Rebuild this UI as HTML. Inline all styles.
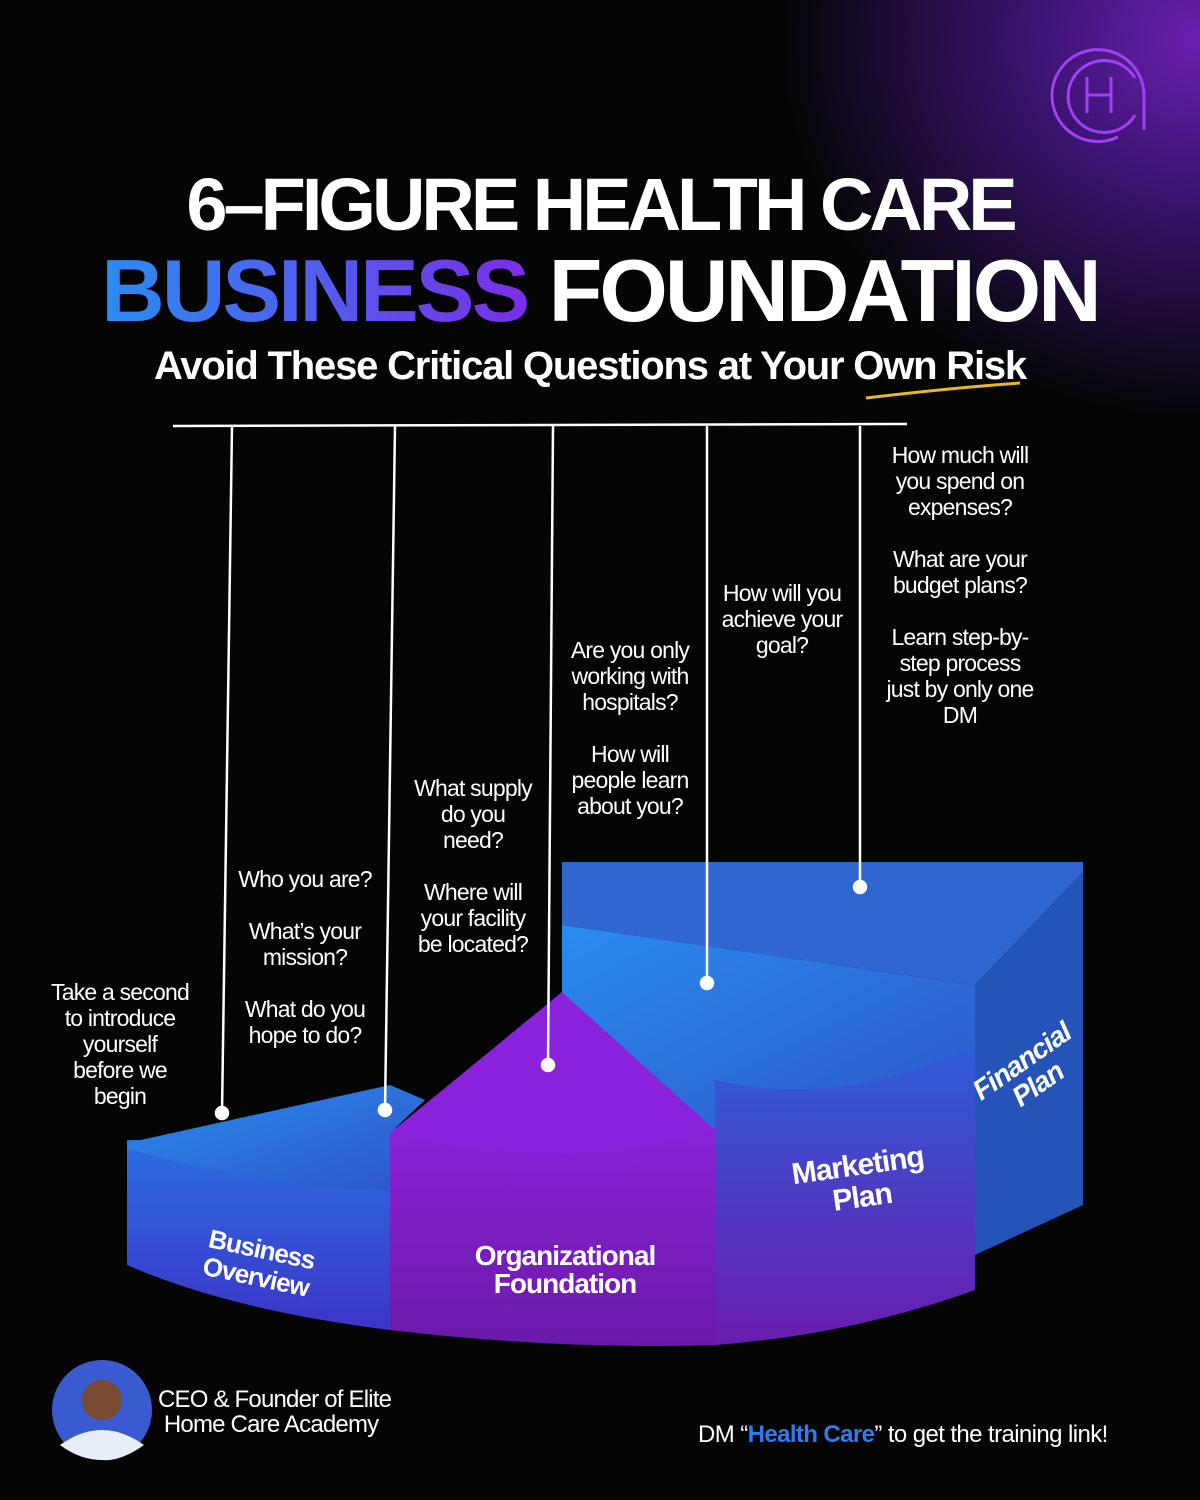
<!DOCTYPE html>
<html><head><meta charset="utf-8"><style>
body{margin:0;background:#050505;}
#c{position:relative;width:1200px;height:1500px;overflow:hidden;background:radial-gradient(ellipse 420px 380px at 1200px 40px,#6a1fb0 0%,#3a1470 40%,rgba(5,5,5,0) 100%),#050505;font-family:"Liberation Sans",sans-serif;color:#fff;}
.t{position:absolute;text-align:center;white-space:nowrap;}
.q{position:absolute;text-align:center;font-size:23px;line-height:26px;letter-spacing:-0.8px;}
</style></head><body><div id="c">
<svg width="1200" height="1500" style="position:absolute;left:0;top:0">
<defs>
<linearGradient id="bl" x1="0" y1="0" x2="0" y2="1"><stop offset="0" stop-color="#2a6fe0"/><stop offset="1" stop-color="#3c34c8"/></linearGradient>
<linearGradient id="pu" x1="0" y1="0" x2="0" y2="1"><stop offset="0" stop-color="#8a22d8"/><stop offset="1" stop-color="#6a1aa8"/></linearGradient>
<linearGradient id="mk" x1="0" y1="0" x2="0" y2="1"><stop offset="0" stop-color="#2c5ed8"/><stop offset="1" stop-color="#6a1cae"/></linearGradient>
<linearGradient id="top" x1="0" y1="0" x2="1" y2="1"><stop offset="0" stop-color="#2a8cf0"/><stop offset="1" stop-color="#2d55c8"/></linearGradient>
</defs>
<polygon points="562,862 1083,862 1083,872 975,985 562,925" fill="#2f66cf"/>
<polygon points="975,985 1083,872 1083,1205 975,1255" fill="#2554b8"/>
<!-- marketing front -->
<path d="M715,1040 L975,1040 L975,1290 Q850,1335 715,1345 Z" fill="url(#mk)"/>
<!-- marketing top face -->
<path d="M562,925 L975,985 L975,1045 Q840,1110 715,1080 L715,1135 L562,995 Z" fill="url(#top)"/>
<!-- organizational -->
<path d="M390,1128 L715,1128 L715,1345 Q560,1350 390,1330 Z" fill="url(#pu)"/>
<path d="M390,1133 L562,992 L715,1130 Q560,1175 390,1133 Z" fill="#8a22dd"/>
<!-- business -->
<path d="M127,1140 L390,1140 L390,1330 Q230,1310 127,1265 Z" fill="url(#bl)"/>
<path d="M127,1143 L390,1085 L425,1100 L390,1133 L390,1190 L360,1190 Q230,1180 127,1148 Z" fill="url(#top)"/>
<g stroke="#fff" stroke-width="2.5" fill="#fff">
<line x1="173" y1="426" x2="907" y2="424"/>
<line x1="232" y1="426" x2="222" y2="1113"/>
<line x1="395" y1="426" x2="385" y2="1110"/>
<line x1="553" y1="426" x2="548" y2="1065"/>
<line x1="707" y1="426" x2="707" y2="983"/>
<line x1="860" y1="426" x2="860" y2="887"/>
<circle cx="222" cy="1113" r="6"/><circle cx="385" cy="1110" r="6"/><circle cx="548" cy="1065" r="6"/><circle cx="707" cy="983" r="6"/><circle cx="860" cy="887" r="6"/>
</g>
<path d="M866,398 Q950,388 1020,383" stroke="#e8b82a" stroke-width="3" fill="none"/>
<g fill="none" stroke="#a040f0" stroke-width="3">
<path d="M1144,130 L1144,95 A46,46 0 1 0 1118,137"/>
<path d="M1135,115 A36,36 0 1 1 1135,78"/>
<path d="M1087,77 V113 M1111,77 V113 M1087,95 H1111"/>
</g>
<circle cx="102" cy="1410" r="50" fill="#3a5ad0"/>
<circle cx="102" cy="1400" r="20" fill="#7a4a30"/>
<path d="M60,1445 Q102,1415 144,1445 Q120,1462 102,1460 Q80,1460 60,1445Z" fill="#e8eef8"/>
</svg>
<div class="t" style="left:0;width:1200px;top:162px;font-size:74px;font-weight:bold;letter-spacing:-4px;">6–FIGURE HEALTH CARE</div>
<div class="t" style="left:0;width:1200px;top:240px;font-size:88px;font-weight:bold;letter-spacing:-3px;"><span style="background:linear-gradient(90deg,#2a8cf0,#7a2ee8);-webkit-background-clip:text;color:transparent">BUSINESS</span> FOUNDATION</div>
<div class="t" style="left:0;width:1180px;top:344px;font-size:40px;font-weight:bold;letter-spacing:-1.2px;">Avoid These Critical Questions at Your Own Risk</div>
<div class="q" style="left:30px;width:180px;top:979px">Take a second<br>to introduce<br>yourself<br>before we<br>begin</div>
<div class="q" style="left:225px;width:160px;top:866px">Who you are?<br><br style="line-height:10px">What’s your<br>mission?<br><br style="line-height:10px">What do you<br>hope to do?</div>
<div class="q" style="left:398px;width:150px;top:775px">What supply<br>do you<br>need?<br><br style="line-height:10px">Where will<br>your facility<br>be located?</div>
<div class="q" style="left:555px;width:150px;top:637px">Are you only<br>working with<br>hospitals?<br><br style="line-height:10px">How will<br>people learn<br>about you?</div>
<div class="q" style="left:707px;width:150px;top:580px">How will you<br>achieve your<br>goal?</div>
<div class="q" style="left:865px;width:190px;top:442px">How much will<br>you spend on<br>expenses?<br><br style="line-height:10px">What are your<br>budget plans?<br><br style="line-height:10px">Learn step-by-<br>step process<br>just by only one<br>DM</div>
<div class="t" style="left:205px;top:1235px;font-size:26px;font-weight:bold;line-height:28px;transform:rotate(12deg);letter-spacing:-1px">Business<br>Overview</div>
<div class="t" style="left:440px;width:250px;top:1242px;font-size:28px;font-weight:bold;line-height:28px;letter-spacing:-1px">Organizational<br>Foundation</div>
<div class="t" style="left:780px;width:160px;top:1150px;font-size:30px;font-weight:bold;line-height:32px;transform:rotate(-8deg);letter-spacing:-1px">Marketing<br>Plan</div>
<div class="t" style="left:965px;width:130px;top:1045px;font-size:28px;font-weight:bold;font-style:italic;line-height:28px;transform:rotate(-35deg);letter-spacing:-1px">Financial<br>Plan</div>
<div class="t" style="left:158px;top:1387px;font-size:24px;line-height:25px;text-align:left;letter-spacing:-0.8px">CEO &amp; Founder of Elite<br>&nbsp;Home Care Academy</div>
<div class="t" style="left:698px;top:1421px;font-size:24px;letter-spacing:-0.6px">DM “<b style="color:#2f7cf0">Health Care</b>” to get the training link!</div>
</div></body></html>
